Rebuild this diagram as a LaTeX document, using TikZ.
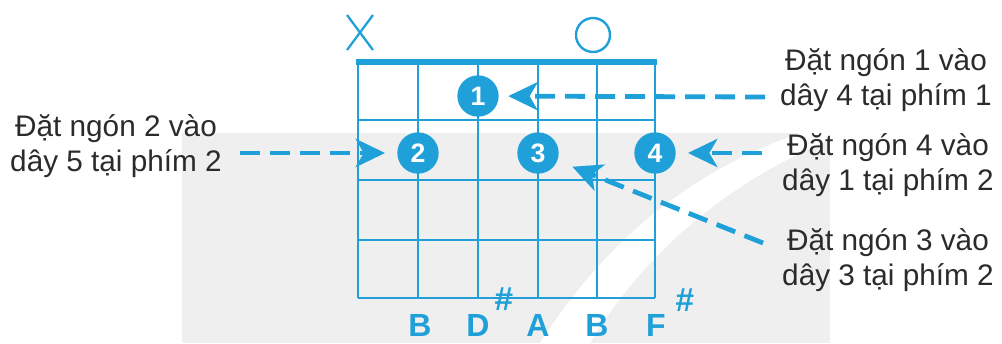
\documentclass[tikz,border=0pt]{standalone}
\usepackage{fontspec}
\setmainfont{Liberation Sans}
\usetikzlibrary{arrows.meta}
\definecolor{gblue}{HTML}{1FA0D8}
\definecolor{gtext}{HTML}{2B2B2B}
\definecolor{wmark}{HTML}{EFEFEF}
\tikzset{
  grid/.style={draw=gblue, line width=2.2pt},
  dot/.style={circle, fill=gblue, inner sep=0pt, minimum size=31pt, text=white, font=\bfseries\fontsize{20}{20}\selectfont},
  note/.style={align=center, text=gtext, font=\fontsize{22.3}{26}\selectfont, inner sep=0pt},
  lbl/.style={text=gblue, font=\bfseries\fontsize{24}{24}\selectfont, inner sep=0pt},
  sharp/.style={text=gblue, font=\bfseries\fontsize{25}{25}\selectfont, inner sep=0pt},
  pointer/.style={draw=gblue, line width=3.6pt, dash pattern=on 15pt off 7.5pt, -{Stealth[length=22pt, width=21pt, inset=6pt]}},
}
\begin{document}
\begin{tikzpicture}[x=0.75pt, y=-0.75pt]
\useasboundingbox (0,0) rectangle (1002,343);
% faint watermark
\fill[wmark] (182,133) rectangle (830,343);
\fill[white] (540,343) .. controls (600,250) and (680,175) .. (800,133)
  -- (830,133) -- (830,140) .. controls (720,185) and (640,260) .. (590,343) -- cycle;
% grid
\foreach \x in {358,418,478,538,597,655} \draw[grid] (\x,62) -- (\x,298);
\foreach \y in {120,180,240,298} \draw[grid] (358,\y) -- (655,\y);
\draw[draw=gblue, line width=4.8pt] (356,62) -- (657,62);
% X and O
\draw[gblue, line width=1.7pt] (347,15) -- (373,50) (373,15) -- (347,50);
\draw[gblue, line width=1.8pt] (593,35) circle[radius=17];
% dots
\node[dot] (d1) at (478,96) {1};
\node[dot] (d2) at (418,153) {2};
\node[dot] (d3) at (538,153) {3};
\node[dot] (d4) at (655,153) {4};
% bottom labels
\node[lbl] (nB1) at (420,325) {B};
\node[lbl] (nD) at (478,325) {D};
\node[lbl] (nA) at (538,325) {A};
\node[lbl] (nB2) at (597,325) {B};
\node[lbl] (nF) at (656,325) {F};
\node[sharp] (sD) at (504,299) {\#};
\node[sharp] (sF) at (685,300) {\#};
% notes
\node[note] (t2) at (116,146) {Đặt ngón 2 vào\\dây 5 tại phím 2};
\node[note] (t1) at (886,80) {Đặt ngón 1 vào\\dây 4 tại phím 1};
\node[note] (t4) at (888,165) {Đặt ngón 4 vào\\dây 1 tại phím 2};
\node[note] (t3) at (888,260) {Đặt ngón 3 vào\\dây 3 tại phím 2};
% pointers
\coordinate (s1) at (765,97);
\coordinate (s2) at (240,153);
\coordinate (s4) at (762,153);
\coordinate (s3) at (763,243);
\draw[pointer, shorten >=7pt] (s1) -- (d1);
\draw[pointer, shorten >=9pt] (s2) -- (d2);
\draw[pointer, shorten >=9pt] (s4) -- (d4);
\draw[pointer, shorten >=12pt] (s3) -- (d3);
\end{tikzpicture}
\end{document}
